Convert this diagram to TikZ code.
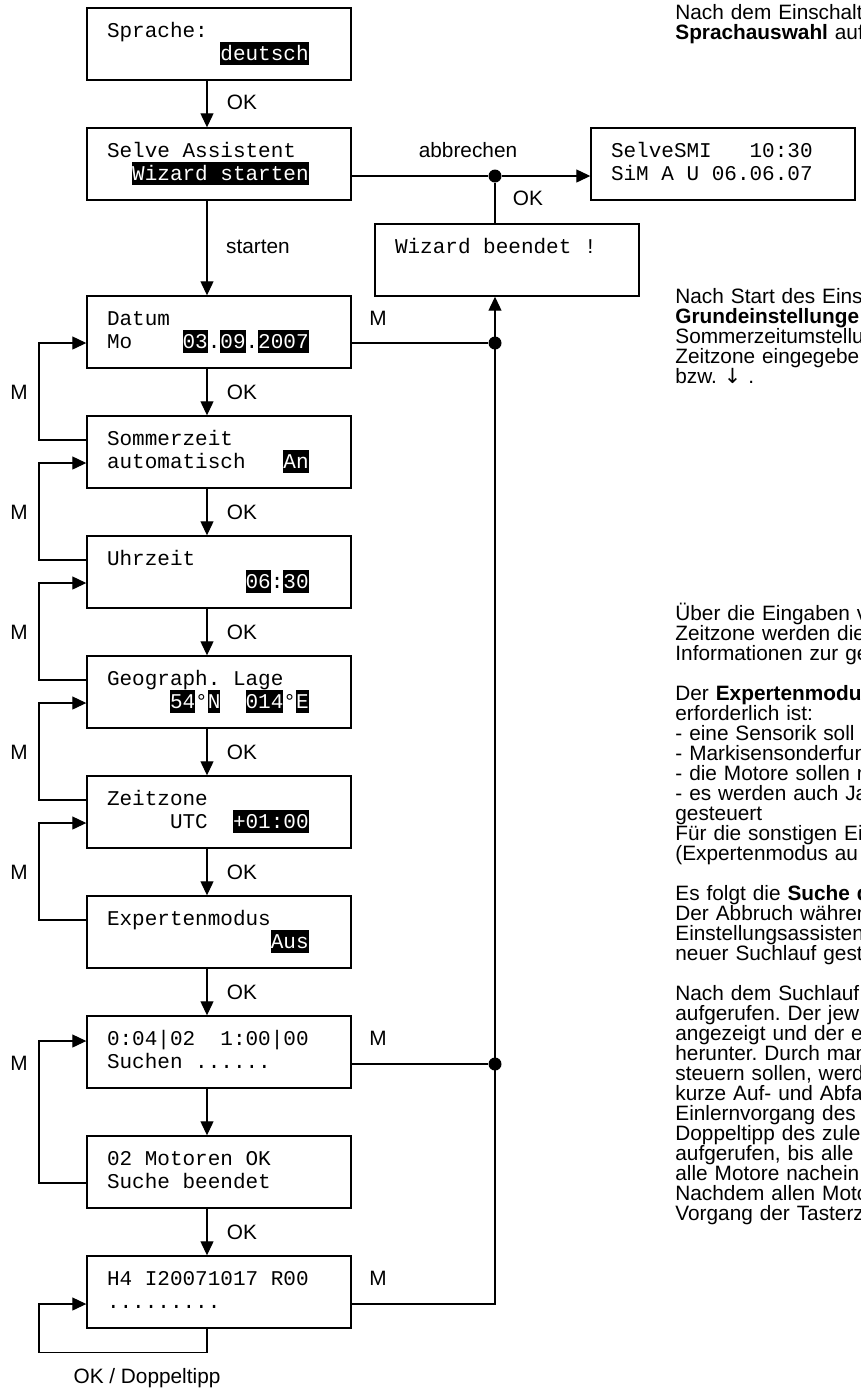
\documentclass[tikz,border=0pt]{standalone}
\usepackage{fontspec}
\setmainfont{Liberation Sans}
\newfontfamily\lcdfont{Liberation Mono}
\newfontfamily\symfont{DejaVu Sans}
\usetikzlibrary{arrows.meta,positioning,calc}
\frenchspacing
\newlength\lcdw
\AtBeginDocument{\settowidth\lcdw{\lcdfont\fontsize{10.5}{11.5}\selectfont 0}}
\newcommand\lcdgap[1]{\hspace*{#1\lcdw}}
\newcommand\lsp{\lcdgap{1}}
\newcommand\inv[1]{{\setlength{\fboxsep}{0pt}\colorbox{black}{\rule[-2.5pt]{0pt}{11.5pt}\textcolor{white}{#1}}}}
\tikzset{
  screen/.style={rectangle,draw,line width=.7pt,minimum width=132pt,minimum height=36pt,
    text width=112pt,inner xsep=10pt,inner ysep=5pt,text height=9.5pt,text depth=16.5pt,
    align=left,font=\lcdfont\fontsize{10.5}{11.5}\selectfont},
  link/.style={line width=.6pt,-{Triangle[length=7pt,width=6.5pt]}},
  wire/.style={line width=.6pt},
  dot/.style={circle,fill=black,inner sep=0pt,minimum size=6.5pt},
  lab/.style={font=\fontsize{10.4}{12}\selectfont,inner sep=0pt},
  info/.style={anchor=base west,align=left,text width=220pt,inner sep=0pt,
    font=\fontsize{10.4}{10}\selectfont}
}
\begin{document}
\begin{tikzpicture}[x=0.5pt,y=-0.5pt]
  \useasboundingbox (0,0) rectangle (861,1389);
  % screens
  \node[screen] (lang)   at (219,44)   {Sprache:\\\lcdgap{9}\inv{deutsch}};
  \node[screen] (assist) at (219,164)  {Selve\lsp Assistent\\\lcdgap{2}\inv{Wizard\lsp starten}};
  \node[screen] (datum)  at (219,332)  {Datum\\Mo\lcdgap{4}\inv{03}.\inv{09}.\inv{2007}};
  \node[screen] (summer) at (219,452)  {Sommerzeit\\automatisch\lcdgap{3}\inv{An}};
  \node[screen] (clock)  at (219,572)  {Uhrzeit\\\lcdgap{11}\inv{06}:\inv{30}};
  \node[screen] (geo)    at (219,692)  {Geograph.\lsp Lage\\\lcdgap{5}\inv{54}°\inv{N}\lcdgap{2}\inv{014}°\inv{E}};
  \node[screen] (zone)   at (219,812)  {Zeitzone\\\lcdgap{5}UTC\lcdgap{2}\inv{+01:00}};
  \node[screen] (expert) at (219,932)  {Expertenmodus\\\lcdgap{13}\inv{Aus}};
  \node[screen] (search) at (219,1052) {0:04|02\lcdgap{2}1:00|00\\Suchen\lsp ......};
  \node[screen] (found)  at (219,1172) {02\lsp Motoren\lsp OK\\Suche\lsp beendet};
  \node[screen] (learn)  at (219,1292) {H4\lsp I20071017\lsp R00\\.........};
  \node[screen] (smi)    at (723,164)  {SelveSMI\lcdgap{3}10:30\\SiM\lsp A\lsp U\lsp 06.06.07};
  \node[screen] (wizard) at (507,260)  {Wizard\lsp beendet\lsp !};

  \coordinate (lx) at (39,0);
  \node[dot] (dotA) at (495,176) {};
  \node[dot] (dotB) at (495,343) {};
  \node[dot] (dotC) at (495,1064) {};

  % main chain
  \draw[link] ([xshift=-6pt]lang.south) -- ([xshift=-6pt]assist.north);
  \draw[link] ([xshift=-6pt]assist.south) -- ([xshift=-6pt]datum.north);
  \draw[link] ([xshift=-6pt]datum.south) -- ([xshift=-6pt]summer.north);
  \draw[link] ([xshift=-6pt]summer.south) -- ([xshift=-6pt]clock.north);
  \draw[link] ([xshift=-6pt]clock.south) -- ([xshift=-6pt]geo.north);
  \draw[link] ([xshift=-6pt]geo.south) -- ([xshift=-6pt]zone.north);
  \draw[link] ([xshift=-6pt]zone.south) -- ([xshift=-6pt]expert.north);
  \draw[link] ([xshift=-6pt]expert.south) -- ([xshift=-6pt]search.north);
  \draw[link] ([xshift=-6pt]search.south) -- ([xshift=-6pt]found.north);
  \draw[link] ([xshift=-6pt]found.south) -- ([xshift=-6pt]learn.north);

  % M back loops
  \draw[link] ([yshift=6pt]summer.west) -- ([yshift=6pt]summer.west -| lx) |- ([yshift=-5.5pt]datum.west);
  \draw[link] ([yshift=6pt]clock.west) -- ([yshift=6pt]clock.west -| lx) |- ([yshift=-5.5pt]summer.west);
  \draw[link] ([yshift=6pt]geo.west) -- ([yshift=6pt]geo.west -| lx) |- ([yshift=-5.5pt]clock.west);
  \draw[link] ([yshift=6pt]zone.west) -- ([yshift=6pt]zone.west -| lx) |- ([yshift=-5.5pt]geo.west);
  \draw[link] ([yshift=6pt]expert.west) -- ([yshift=6pt]expert.west -| lx) |- ([yshift=-5.5pt]zone.west);
  \draw[link] ([yshift=-5.5pt]found.west) -- ([yshift=-5.5pt]found.west -| lx) |- ([yshift=5.5pt]search.west);
  \draw[link] ([xshift=-6pt]learn.south) -- ++(0pt,-12pt) coordinate (turn) -- (turn -| lx) |- ([yshift=-6pt]learn.west);

  % exits to the right
  \draw[wire] ([yshift=-6pt]assist.east) -- (dotA);
  \draw[link] (dotA) -- (dotA -| smi.west);
  \draw[wire] (wizard.north -| dotA) -- (dotA);
  \draw[wire] ([yshift=-5.5pt]datum.east) -- (dotB);
  \draw[wire] ([yshift=-6pt]search.east) -- (dotC);
  \draw[link] ([yshift=-6pt]learn.east) -| (wizard.south -| dotA);

  % labels
  \node[lab] (okA) at (242,102) {OK};
  \node[lab] (start) at (258,247) {starten};
  \node[lab] (okB) at (242,392) {OK};
  \node[lab] (okC) at (242,512) {OK};
  \node[lab] (okD) at (242,632) {OK};
  \node[lab] (okE) at (242,752) {OK};
  \node[lab] (okF) at (242,872) {OK};
  \node[lab] (okG) at (242,992) {OK};
  \node[lab] (okH) at (242,1232) {OK};
  \node[lab] (mA) at (19,392) {M};
  \node[lab] (mB) at (19,512) {M};
  \node[lab] (mC) at (19,632) {M};
  \node[lab] (mD) at (19,752) {M};
  \node[lab] (mE) at (19,872) {M};
  \node[lab] (mF) at (19,1063) {M};
  \node[lab] (mG) at (378,318) {M};
  \node[lab] (mH) at (378,1038) {M};
  \node[lab] (mI) at (378,1278) {M};
  \node[lab] (cancel) at (468,150) {abbrechen};
  \node[lab] (okW) at (528,198) {OK};
  \node[lab] (dbl) at (147,1378) {OK / Doppeltipp};

  % description column
  \begin{scope}
    \clip (0,0) rectangle (861,1389);
    \node[info] (infoA) at (675,19) {Nach dem Einschalt\\\textbf{Sprachauswahl} auf};
    \node[info] (infoB) at (675,303) {Nach Start des Eins\\\textbf{Grundeinstellunge}\\Sommerzeitumstellu\\Zeitzone eingegebe\\bzw. {\symfont ↓} .};
    \node[info] (infoC) at (675,620) {Über die Eingaben v\\Zeitzone werden die\\Informationen zur ge\\[10pt]Der \textbf{Expertenmodu}\\erforderlich ist:\\- eine Sensorik soll\\- Markisensonderfun\\- die Motore sollen n\\- es werden auch Ja\\gesteuert\\Für die sonstigen Ei\\(Expertenmodus au};
    \node[info] (infoD) at (675,900) {Es folgt die \textbf{Suche d}\\Der Abbruch währen\\Einstellungsassisten\\neuer Suchlauf gest};
    \node[info] (infoE) at (675,1000) {Nach dem Suchlauf\\aufgerufen. Der jew\\angezeigt und der e\\herunter. Durch man\\steuern sollen, werd\\kurze Auf- und Abfa\\Einlernvorgang des\\Doppeltipp des zule\\aufgerufen, bis alle\\alle Motore nachein\\Nachdem allen Moto\\Vorgang der Tasterz};
  \end{scope}
\end{tikzpicture}
\end{document}
